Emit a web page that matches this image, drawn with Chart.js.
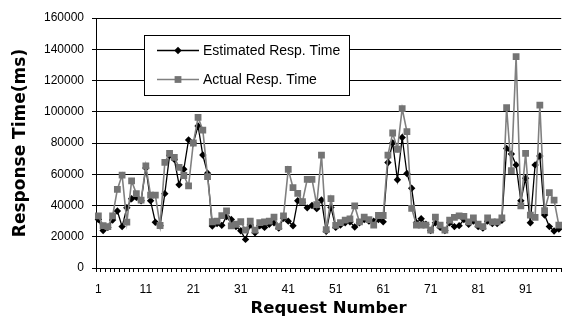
<!DOCTYPE html>
<html><head><meta charset="utf-8">
<script src="https://cdn.jsdelivr.net/npm/chart.js@4.4.1/dist/chart.umd.min.js"></script>
<style>html,body{margin:0;padding:0;background:#fff;overflow:hidden;width:562px;height:320px}#wrap{width:566px;height:320px;position:relative}</style>
</head><body><div id="wrap"><canvas id="c"></canvas></div>
<script>
const requestNumbers = ['1','2','3','4','5','6','7','8','9','10','11','12','13','14','15','16','17','18','19','20',
'21','22','23','24','25','26','27','28','29','30','31','32','33','34','35','36','37','38','39','40',
'41','42','43','44','45','46','47','48','49','50','51','52','53','54','55','56','57','58','59','60',
'61','62','63','64','65','66','67','68','69','70','71','72','73','74','75','76','77','78','79','80',
'81','82','83','84','85','86','87','88','89','90','91','92','93','94','95','96','97','98'];
const shownTickLabels = ['1','11','21','31','41','51','61','71','81','91'];
const yTickValues = [0,20000,40000,60000,80000,100000,120000,140000,160000];
const estimatedResp = [31000,24000,26000,30700,36500,26500,38600,44300,45200,43000,
64000,43000,29300,27000,47600,72000,69500,53300,63200,82000,
80000,90900,72300,60600,26900,28500,27300,33000,31000,26500,
23800,18300,27500,22500,27000,26000,28000,29000,25500,31800,
30000,27000,43000,42000,38500,40000,38000,43500,23500,38800,
26000,27500,29000,29500,26200,29000,31000,30000,30000,31000,
29600,67500,80000,56500,83500,60500,51000,29000,31500,28000,
24000,29000,26000,24000,29000,26500,27100,31000,28000,30000,
26500,25500,30000,28500,28500,30500,76500,73000,66000,43000,
57500,29000,66000,71700,33900,26500,23700,25000];
const actualResp = [33300,27100,26500,33300,50300,59500,29300,55700,47600,43500,
65400,46700,46700,27200,67600,73400,70800,64400,59200,52600,
80000,96400,88300,58500,29600,30000,33500,36500,27000,28000,
29600,24300,30000,24300,29000,29500,30000,32600,26500,33300,
63100,51500,47800,42500,56700,56700,40500,72300,24500,44400,
27300,29000,30700,31500,39700,29500,32600,31000,27500,33600,
33600,72300,86400,76000,102000,87300,38200,27500,27500,27500,
24300,32500,27500,24300,30700,32400,33300,33000,29500,32000,
28000,26500,32000,29500,29500,32000,102600,62300,135300,39700,
73400,33900,32400,104300,36700,48200,43500,27500];

const legendPlugin = {
  id: 'boxLegend',
  afterDraw(chart) {
    const c = chart.ctx;
    c.save();
    c.fillStyle = '#fff';
    c.fillRect(144, 35, 205, 60);
    c.strokeStyle = '#000'; c.lineWidth = 1;
    c.strokeRect(144.5, 35.5, 205, 60);
    const rows = [50.5, 79.5];
    chart.data.datasets.forEach((ds, i) => {
      const y = rows[i];
      c.strokeStyle = ds.borderColor; c.lineWidth = ds.borderWidth;
      c.beginPath(); c.moveTo(157, y); c.lineTo(199, y); c.stroke();
      c.fillStyle = ds.backgroundColor;
      const x = 178, r = ds.pointRadius;
      c.beginPath();
      if (ds.pointStyle === 'rectRot') {
        c.moveTo(x, y - r); c.lineTo(x + r, y); c.lineTo(x, y + r); c.lineTo(x - r, y); c.closePath();
      } else {
        const s = r * Math.SQRT1_2;
        c.rect(x - s, y - s, 2 * s, 2 * s);
      }
      c.fill();
      c.fillStyle = '#000';
      c.font = '14px "Liberation Sans", Arial, sans-serif';
      c.textBaseline = 'middle'; c.textAlign = 'left';
      c.fillText(ds.label, 203, y + 0.5);
    });
    c.restore();
  }
};

new Chart(document.getElementById('c'), {
  type: 'line',
  data: {
    labels: requestNumbers,
    datasets: [
      {label: 'Estimated Resp. Time', data: estimatedResp, borderColor: '#000', backgroundColor: '#000',
       borderWidth: 1.3, pointStyle: 'rectRot', pointRadius: 3.7, pointBorderWidth: 0, tension: 0, order: 1},
      {label: 'Actual Resp. Time', data: actualResp, borderColor: '#808080', backgroundColor: '#747474',
       borderWidth: 1.6, pointStyle: 'rect', pointRadius: 4.8, pointBorderWidth: 0, tension: 0, order: 0}
    ]
  },
  options: {
    responsive: true, maintainAspectRatio: false, animation: false,
    layout: {padding: {top: 18, right: 2, bottom: 0, left: 0}},
    plugins: {legend: {display: false}, tooltip: {enabled: false}},
    scales: {
      x: {
        type: 'category', offset: true,
        afterFit: s => { s.height = 52; s.paddingLeft = 0; s.paddingRight = 0; },
        grid: {offset: true, drawOnChartArea: false, drawTicks: true, tickLength: 4, color: '#000', lineWidth: 1},
        border: {display: true, color: '#000', width: 1},
        ticks: {autoSkip: false, maxRotation: 0, minRotation: 0, padding: 10, color: '#000',
          font: {family: '"Liberation Sans", Arial, sans-serif', size: 12},
          callback: (v, i) => shownTickLabels.includes(requestNumbers[i]) ? requestNumbers[i] : ''},
        title: {display: true, text: 'Request Number', color: '#000',
          font: {family: '"DejaVu Sans", sans-serif', size: 16.5, weight: 'bold'}, padding: {top: 3, bottom: 1}}
      },
      y: {
        min: 0, max: 160000,
        afterFit: s => { s.width = 96; },
        afterBuildTicks: axis => { axis.ticks = yTickValues.map(v => ({value: v})); },
        grid: {color: '#000', lineWidth: 1, drawTicks: true, tickLength: 4},
        border: {display: true, color: '#000', width: 1},
        ticks: {padding: 8, color: '#000', font: {family: '"Liberation Sans", Arial, sans-serif', size: 12},
          callback: v => String(v)},
        title: {display: true, text: 'Response Time(ms)', color: '#000',
          font: {family: '"DejaVu Sans", sans-serif', size: 17, weight: 'bold'}, padding: {top: 10, bottom: 5}}
      }
    }
  },
  plugins: [legendPlugin]
});
</script>
</body></html>
